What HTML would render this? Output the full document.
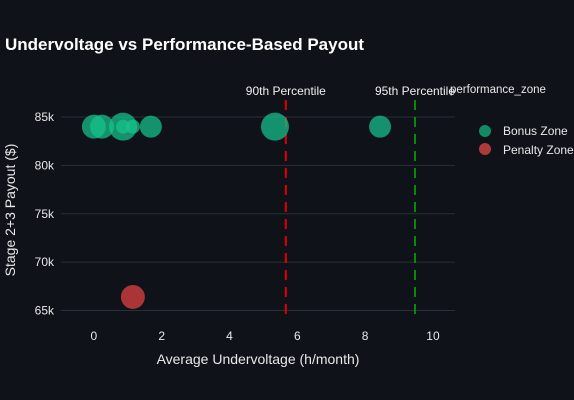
<!DOCTYPE html>
<html><head><meta charset="utf-8"><style>
html,body{margin:0;padding:0;background:#0f1219;}
svg{display:block;font-family:"Liberation Sans",Arial,sans-serif;}
</style></head><body>
<svg id="chart" width="574" height="400" viewBox="0 0 574 400">
<rect width="574" height="400" fill="#0f1219"/>
<text x="5" y="50" fill="#ffffff" font-size="17" font-weight="bold">Undervoltage vs Performance-Based Payout</text>
<g id="grid"></g>
<g id="xt"></g>
<g id="yt"></g>
<g id="vlines"></g>
<g id="pts"></g>
<text x="258" y="364" fill="#e8e8e8" font-size="14" text-anchor="middle">Average Undervoltage (h/month)</text>
<text transform="translate(15,210) rotate(-90)" fill="#e8e8e8" font-size="14" text-anchor="middle">Stage 2+3 Payout ($)</text>
<g>
<text x="450" y="93" fill="#e8e8e8" font-size="11.5">performance_zone</text>
<g><circle cx="485" cy="131" r="6" fill="#148a64"/><text x="503" y="135" fill="#e8e8e8" font-size="12">Bonus Zone</text></g>
<g><circle cx="485" cy="149" r="6" fill="#b03a3a"/><text x="503" y="154" fill="#e8e8e8" font-size="12">Penalty Zone</text></g>
</g>
</svg>
<script>
const xTicks=[0,2,4,6,8,10];
const yTicks=[65000,70000,75000,80000,85000];
const yTickLabels=["65k","70k","75k","80k","85k"];
const bonusX=[0,0.24,0.86,0.86,1.15,1.68,5.34,8.44];
const bonusY=[84000,84000,84000,84000,84000,84000,84000,84000];
const bonusSize=[12,12,14,7,7,11,14,11];
const penaltyX=[1.15];
const penaltyY=[66400];
const penaltySize=[12];
const refLabels=["90th Percentile","95th Percentile"];
const refValues=[5.66,9.47];
const refColors=["#e00000","#0a8a0a"];

const X0=61,X1=455,Y0=100,Y1=320;
const xmin=-0.97,xmax=10.65;
function xs(v){return X0+(v-xmin)/(xmax-xmin)*(X1-X0);}
function ys(v){return 310.5-(v-65000)/20000*193.5;}
const NS="http://www.w3.org/2000/svg";
function mk(tag,attrs,parent){const e=document.createElementNS(NS,tag);for(const k in attrs)e.setAttribute(k,attrs[k]);parent.appendChild(e);return e;}
const grid=document.getElementById('grid'),xt=document.getElementById('xt'),yt=document.getElementById('yt');
yTicks.forEach((t,i)=>{
 const l=mk('line',{x1:X0,x2:X1,y1:ys(t),y2:ys(t),stroke:'#283039','stroke-width':1},grid);
 
 
 const tx=mk('text',{x:54,y:ys(t)+4,fill:'#e8e8e8','font-size':12,'text-anchor':'end'},yt);
 tx.textContent=yTickLabels[i];
 
 
});
xTicks.forEach(t=>{
 const tx=mk('text',{x:xs(t),y:340,fill:'#e8e8e8','font-size':12,'text-anchor':'middle'},xt);
 tx.textContent=t;
 
 
});
const vl=document.getElementById('vlines');
const pts=document.getElementById('pts');
function drawSeries(xa,ya,sa,col,op,name){
 xa.forEach((v,i)=>{
  const c=mk('circle',{cx:xs(v),cy:ys(ya[i]),r:sa[i],fill:col,'fill-opacity':op},pts);
  
  
 });
}
drawSeries(bonusX,bonusY,bonusSize,'#16c48e',0.72,'bonus-point');
drawSeries(penaltyX,penaltyY,penaltySize,'#c43c3c',0.85,'penalty-point');
refValues.forEach((v,i)=>{
 const l=mk('line',{x1:xs(v),x2:xs(v),y1:Y0,y2:Y1,stroke:refColors[i],'stroke-width':2,'stroke-dasharray':'10,7'},vl);
 
 
 const t=mk('text',{x:xs(v),y:95,fill:'#f0f0f0','font-size':12,'text-anchor':'middle'},vl);
 t.textContent=refLabels[i];
 
 
});
</script>
</body></html>
